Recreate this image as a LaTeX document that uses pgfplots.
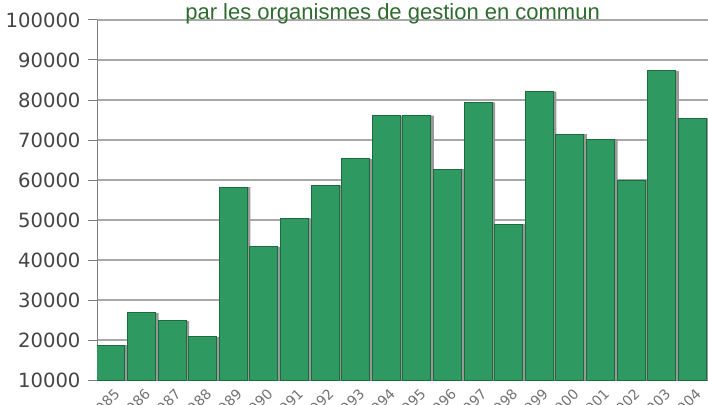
\documentclass[border=0pt]{standalone}
\usepackage{pgfplots}
\pgfplotsset{compat=1.18}
\usepackage{fontspec}
\setmainfont{Liberation Sans}
\newfontfamily\dejavu{DejaVu Sans}
\definecolor{barfill}{HTML}{2E9A62}
\definecolor{baredge}{HTML}{1C6A3E}
\definecolor{titlegreen}{HTML}{2F6B2F}
\definecolor{gridgray}{HTML}{A8A8A8}
\definecolor{ticklab}{HTML}{444444}
\pgfplotstableread{
x val
0 18750
1 26800
2 24800
3 20800
4 58200
5 43300
6 50400
7 58750
8 65300
9 76100
10 76100
11 62750
12 79400
13 49000
14 82100
15 71500
16 70200
17 60000
18 87300
19 75400
}\datatable
\begin{document}
\begin{tikzpicture}
\begin{axis}[
  at={(97pt,24pt)}, anchor=south west,
  scale only axis, width=612pt, height=360pt,
  xmin=-0.457, xmax=19.543,
  ymin=10000, ymax=100000,
  scaled y ticks=false,
  ytick={10000,20000,30000,40000,50000,60000,70000,80000,90000,100000},
  yticklabels={10000,20000,30000,40000,50000,60000,70000,80000,90000,100000},
  yticklabel style={font=\dejavu\fontsize{19.6}{19.6}\selectfont, text=ticklab, xshift=-4pt},
  xtick=data,
  xticklabels={1985,1986,1987,1988,1989,1990,1991,1992,1993,1994,1995,1996,1997,1998,1999,2000,2001,2002,2003,2004},
  xticklabel style={font=\dejavu\fontsize{14}{14}\selectfont, text=gray!90!black, rotate=45, anchor=east, xshift=6pt, yshift=-6pt},
  major x tick style={draw=none},
  axis x line*=bottom, axis y line*=left,
  axis line style={draw=gray, line width=1pt},
  tick align=outside,
  major tick length=9pt,
  y tick style={draw=gray, line width=1pt},
  ymajorgrids,
  grid style={draw=gridgray, line width=1.8pt},
  title={par les organismes de gestion en commun},
  title style={at={(axis description cs:0.483,1)}, anchor=base, yshift=-5pt,
    font=\fontsize{22}{22}\selectfont, text=titlegreen},
  ybar, bar width=28pt,
]
\addplot[fill=gray!80, draw=none, bar shift=3pt, forget plot] table[x=x, y=val] {\datatable};
\addplot[fill=barfill, draw=baredge, line width=1pt, bar shift=0pt] table[x=x, y=val] {\datatable};
\end{axis}
\pgfresetboundingbox
\path[use as bounding box] (0,0) rectangle (708pt,404pt);
\end{tikzpicture}
\end{document}
